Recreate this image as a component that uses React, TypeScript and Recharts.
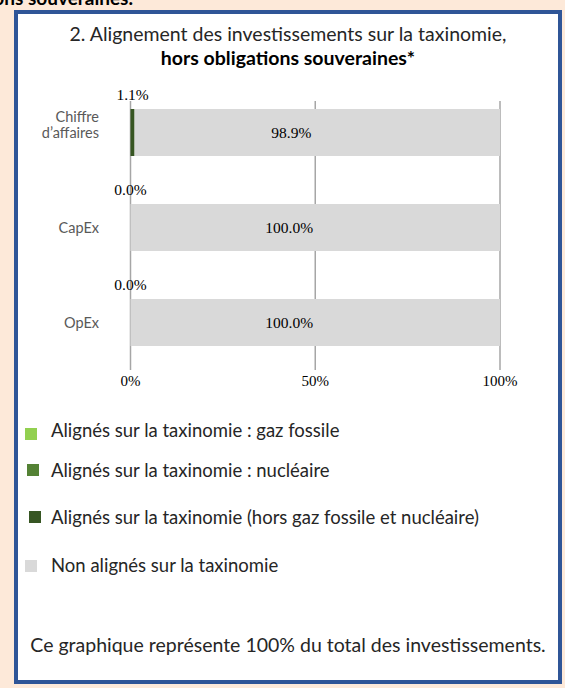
import React from "react";
import { BarChart, Bar, XAxis, YAxis, CartesianGrid, LabelList, Legend } from "recharts";

// ---- data ----
const categories = ["Chiffre\nd’affaires", "CapEx", "OpEx"];
const gazFossile = [0, 0, 0];
const nucleaire = [0, 0, 0];
const horsGazNucleaire = [1.1, 0, 0];
const nonAlignes = [98.9, 100, 100];
const xTicks = [0, 50, 100];

const seriesNames = [
  "Alignés sur la taxinomie : gaz fossile",
  "Alignés sur la taxinomie : nucléaire",
  "Alignés sur la taxinomie (hors gaz fossile et nucléaire)",
  "Non alignés sur la taxinomie",
];
const seriesColors = ["#92D050", "#548235", "#375623", "#D9D9D9"];

const titleLine1 = "2. Alignement des investissements sur la taxinomie,";
const titleLine2 = "hors obligations souveraines*";
const footerText = "Ce graphique représente 100% du total des investissements.";
const cutHeading = "obligations souveraines.";

const data = categories.map((name, i) => ({
  name,
  gaz: gazFossile[i],
  nuc: nucleaire[i],
  hors: horsGazNucleaire[i],
  non: nonAlignes[i],
}));

// ---- layout constants ----
const W = 565;
const H = 688;
const SANS = "Lato, Carlito, Calibri, 'Open Sans', sans-serif";
const SERIF = "'Liberation Serif', 'Times New Roman', serif";
const legendRows = [
  { sx: 25, sy: 428, size: 12, ty: 437 },
  { sx: 27, sy: 464, size: 12, ty: 477 },
  { sx: 29, sy: 511, size: 12, ty: 524 },
  { sx: 25, sy: 560, size: 12, ty: 572 },
];

const YTick = (props: any) => {
  const { x, y, payload } = props;
  const lines = String(payload.value).split("\n");
  const lh = 16;
  const start = y - (lines.length - 1) * lh;
  return (
    <g>
      {lines.map((l: string, i: number) => (
        <text
          key={i}
          x={x}
          y={start + i * lh}
          dy="0.35em"
          textAnchor="end"
          fontFamily={SANS}
          fontSize={14.5}
          fill="#595959"
        >
          {l}
        </text>
      ))}
    </g>
  );
};

// Label of the aligned (dark green) segment, drawn above the bar.
// Attached to the grey bar so that zero-width segments still get their label;
// the dark segment's width is derived from the grey bar's scaled width.
const TopLabel = (p: any) => {
  const { x, y, width, index } = p;
  const d = data[index];
  const unit = d.non ? width / d.non : 0;
  const darkW = d.hors * unit;
  return (
    <text
      x={x - darkW / 2}
      y={y - 9}
      textAnchor="middle"
      fontFamily={SERIF}
      fontSize={15.5}
      fill="#000"
    >
      {Number(d.hors).toFixed(1)}%
    </text>
  );
};

const InnerLabel = (p: any) => {
  const { x, y, width, height, value } = p;
  return (
    <text
      x={x + width / 2 - 26}
      y={y + height / 2}
      dy="0.35em"
      textAnchor="middle"
      fontFamily={SERIF}
      fontSize={15.5}
      fill="#000"
    >
      {Number(value).toFixed(1)}%
    </text>
  );
};

const GridLine = (p: any) => (
  <line
    key={p.key ?? `${p.x1}`}
    x1={p.x1}
    x2={p.x2}
    y1={p.y1 + 16}
    y2={p.y2}
    stroke="#A6A6A6"
    strokeWidth={1.5}
  />
);

const LegendContent = () => (
  <svg width={W} height={H} style={{ position: "absolute", left: 0, top: 0, overflow: "visible" }}>
    {seriesNames.map((n, i) => {
      const r = legendRows[i];
      return (
        <g key={n}>
          <rect x={r.sx} y={r.sy} width={r.size} height={r.size} fill={seriesColors[i]} />
          <text x={51} y={r.ty} fontFamily={SANS} fontSize={18.5} fill="#262626">
            {n}
          </text>
        </g>
      );
    })}
  </svg>
);

export default function App() {
  return (
    <div
      style={{
        position: "absolute",
        left: 0,
        top: 0,
        width: W,
        height: H,
        background: "#FDE9D9",
        overflow: "hidden",
      }}
    >
      <div
        style={{
          position: "absolute",
          left: 14,
          top: 10,
          width: 548,
          height: 674,
          boxSizing: "border-box",
          border: "4px solid #2F5597",
          background: "#FFFFFF",
        }}
      />
      <svg width={W} height={H} style={{ position: "absolute", left: 0, top: 0 }}>
        <text x={133} y={5} textAnchor="end" fontFamily={SANS} fontWeight={700} fontSize={19} fill="#000">
          {cutHeading}
        </text>
        <text x={288} y={40.5} textAnchor="middle" fontFamily={SANS} fontSize={19.5} fill="#262626">
          {titleLine1}
        </text>
        <text x={288} y={65} textAnchor="middle" fontFamily={SANS} fontWeight={700} fontSize={19.5} fill="#000">
          {titleLine2}
        </text>
        <text x={288} y={652} textAnchor="middle" fontFamily={SANS} fontSize={19.5} fill="#262626">
          {footerText}
        </text>
      </svg>
      <div style={{ position: "absolute", left: 0, top: 0 }}>
        <BarChart
          width={W}
          height={H}
          data={data}
          layout="vertical"
          margin={{ top: 85, right: 65, bottom: 288, left: 30.5 }}
          barSize={47}
        >
          <CartesianGrid horizontal={false} vertical={GridLine as any} />
          <XAxis
            type="number"
            domain={[0, 100]}
            ticks={xTicks}
            height={30}
            axisLine={false}
            tickLine={false}
            tickSize={0}
            tickMargin={5}
            tickFormatter={(v: number) => `${v}%`}
            tick={{ fontFamily: SERIF, fontSize: 15, fill: "#000" }}
            interval={0}
          />
          <YAxis
            type="category"
            dataKey="name"
            width={100}
            axisLine={false}
            tickLine={false}
            tickSize={0}
            tickMargin={31.5}
            tick={<YTick />}
            interval={0}
          />
          <Legend
            layout="horizontal"
            verticalAlign="middle"
            align="center"
            content={<LegendContent />}
            wrapperStyle={{ position: "absolute", left: 0, top: 0, width: W, height: 0 }}
          />
          <Bar dataKey="gaz" name={seriesNames[0]} stackId="a" fill={seriesColors[0]} isAnimationActive={false} />
          <Bar dataKey="nuc" name={seriesNames[1]} stackId="a" fill={seriesColors[1]} isAnimationActive={false} />
          <Bar dataKey="hors" name={seriesNames[2]} stackId="a" fill={seriesColors[2]} isAnimationActive={false} />
          <Bar dataKey="non" name={seriesNames[3]} stackId="a" fill={seriesColors[3]} isAnimationActive={false}>
            <LabelList dataKey="non" content={InnerLabel as any} />
            <LabelList dataKey="hors" content={TopLabel as any} />
          </Bar>
        </BarChart>
      </div>
    </div>
  );
}
